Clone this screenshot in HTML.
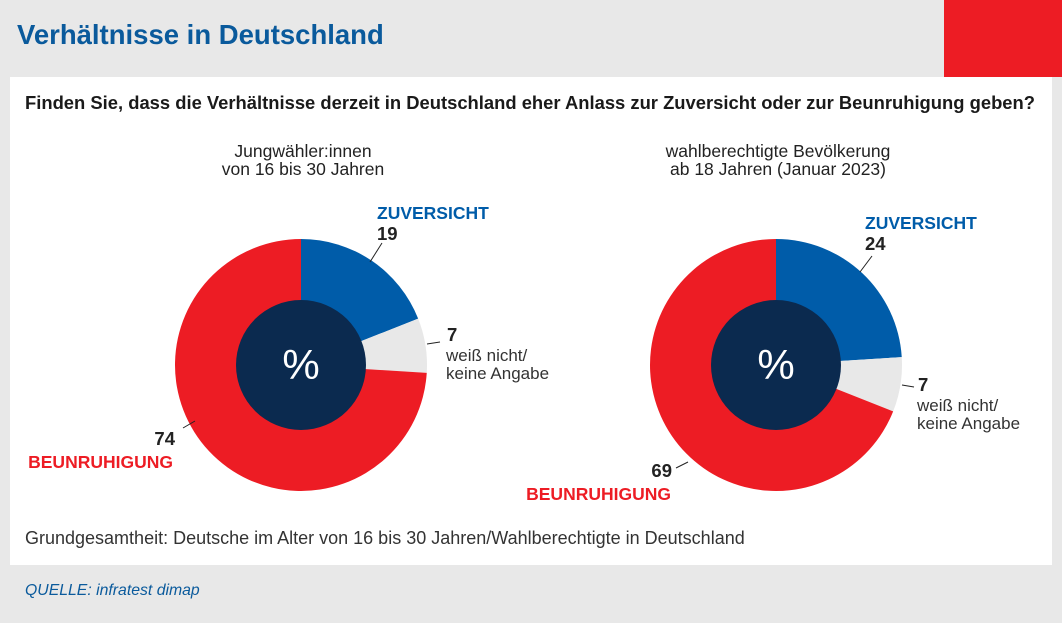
<!DOCTYPE html>
<html><head><meta charset="utf-8"><style>
body{margin:0;width:1062px;height:623px;background:#e8e8e8;font-family:"Liberation Sans",sans-serif;position:relative;overflow:hidden}
.t{position:absolute;white-space:nowrap}
</style></head><body>
<div class="t" style="left:17px;top:19px;font-size:27.5px;font-weight:bold;color:#0a5a9c">Verhältnisse in Deutschland</div>
<div style="position:absolute;left:944px;top:0;width:118px;height:77px;background:#ed1c24"></div>
<div style="position:absolute;left:10px;top:77px;width:1042px;height:488px;background:#fff"></div>
<div class="t" style="left:25px;top:92px;font-size:18.4px;font-weight:bold;color:#1a1a1a">Finden Sie, dass die Verhältnisse derzeit in Deutschland eher Anlass zur Zuversicht oder zur Beunruhigung geben?</div>
<svg id="c" width="1062" height="623" style="position:absolute;left:0;top:0" font-family="Liberation Sans, sans-serif"></svg>
<div class="t" style="left:25px;top:528px;font-size:18px;color:#333">Grundgesamtheit: Deutsche im Alter von 16 bis 30 Jahren/Wahlberechtigte in Deutschland</div>
<div class="t" style="left:25px;top:582px;font-size:15.8px;font-style:italic;color:#0a5a9c">QUELLE: infratest dimap</div>
<script>
const groups=["Jungwähler:innen|von 16 bis 30 Jahren","wahlberechtigte Bevölkerung|ab 18 Jahren (Januar 2023)"];
const zuversicht=[19,24];
const weissNicht=[7,7];
const beunruhigung=[74,69];
const colors=["#005ca9","#e8e8e8","#ed1c24"];
const svg=document.getElementById('c');const NS="http://www.w3.org/2000/svg";
function el(t,a,p){const e=document.createElementNS(NS,t);for(const k in a)e.setAttribute(k,a[k]);(p||svg).appendChild(e);return e;}
function txt(x,y,s,size,w,fill,anchor,name){const e=el('text',{x:x,y:y,'font-size':size,'font-weight':w,fill:fill,'text-anchor':anchor||'start'});e.textContent=s;

return e;}
function line(x1,y1,x2,y2){const l=el('line',{x1:x1,y1:y1,x2:x2,y2:y2,stroke:'#222','stroke-width':1});

}
const cx=[301,776],cy=365,R=126,r=65;
// label layout per pie
const zL=[[377,219,370,262,382,243],[865,229,860,272,872,256]];
const wL=[[447,341,427,344,440,342],[918,391,902,385,914,387]];
const bL=[[175,445,173,468,183,428,195,421],[672,477,671,500,676,468,688,462]];
function pt(c,a,rad){return [cx[c]+rad*Math.sin(a),cy-rad*Math.cos(a)];}
groups.forEach((g,i)=>{
 const lines=g.split('|');
 txt(cx[i]+2,157,lines[0],17.5,'normal','#222','middle','pie-title-line1');
 txt(cx[i]+2,175,lines[1],17.5,'normal','#222','middle','pie-title-line2');
 const vals=[zuversicht[i],weissNicht[i],beunruhigung[i]];const tot=vals.reduce((a,b)=>a+b,0);
 let a0=0;
 vals.forEach((v,j)=>{const a1=a0+v/tot*2*Math.PI;const p0=pt(i,a0,R),p1=pt(i,a1,R);
  const p=el('path',{d:`M${cx[i]},${cy}L${p0[0]},${p0[1]}A${R},${R} 0 ${a1-a0>Math.PI?1:0} 1 ${p1[0]},${p1[1]}Z`,fill:colors[j]});
  
  
  a0=a1;});
 const h=el('circle',{cx:cx[i],cy:cy,r:r,fill:'#0b2a4f'});
 
 
 txt(cx[i],cy+14,'%',42,'normal','#fff','middle','percent-symbol');
 const z=zL[i];line(z[2],z[3],z[4],z[5]);
 txt(z[0],z[1],'ZUVERSICHT',17.5,'bold','#005ca9','start','label-zuversicht');
 txt(z[0],z[1]+21,zuversicht[i],18.5,'bold','#222','start','value-zuversicht');
 const w=wL[i];line(w[2],w[3],w[4],w[5]);
 txt(w[0],w[1],weissNicht[i],18.5,'bold','#222','start','value-weiss-nicht');
 txt(w[0]-1,w[1]+20,'weiß nicht/',17,'normal','#333','start','label-weiss-nicht-1');
 txt(w[0]-1,w[1]+38,'keine Angabe',17,'normal','#333','start','label-weiss-nicht-2');
 const b=bL[i];line(b[4],b[5],b[6],b[7]);
 txt(b[0],b[1],beunruhigung[i],18.5,'bold','#222','end','value-beunruhigung');
 txt(b[2],b[3],'BEUNRUHIGUNG',17.5,'bold','#ed1c24','end','label-beunruhigung');
});
</script>
</body></html>
